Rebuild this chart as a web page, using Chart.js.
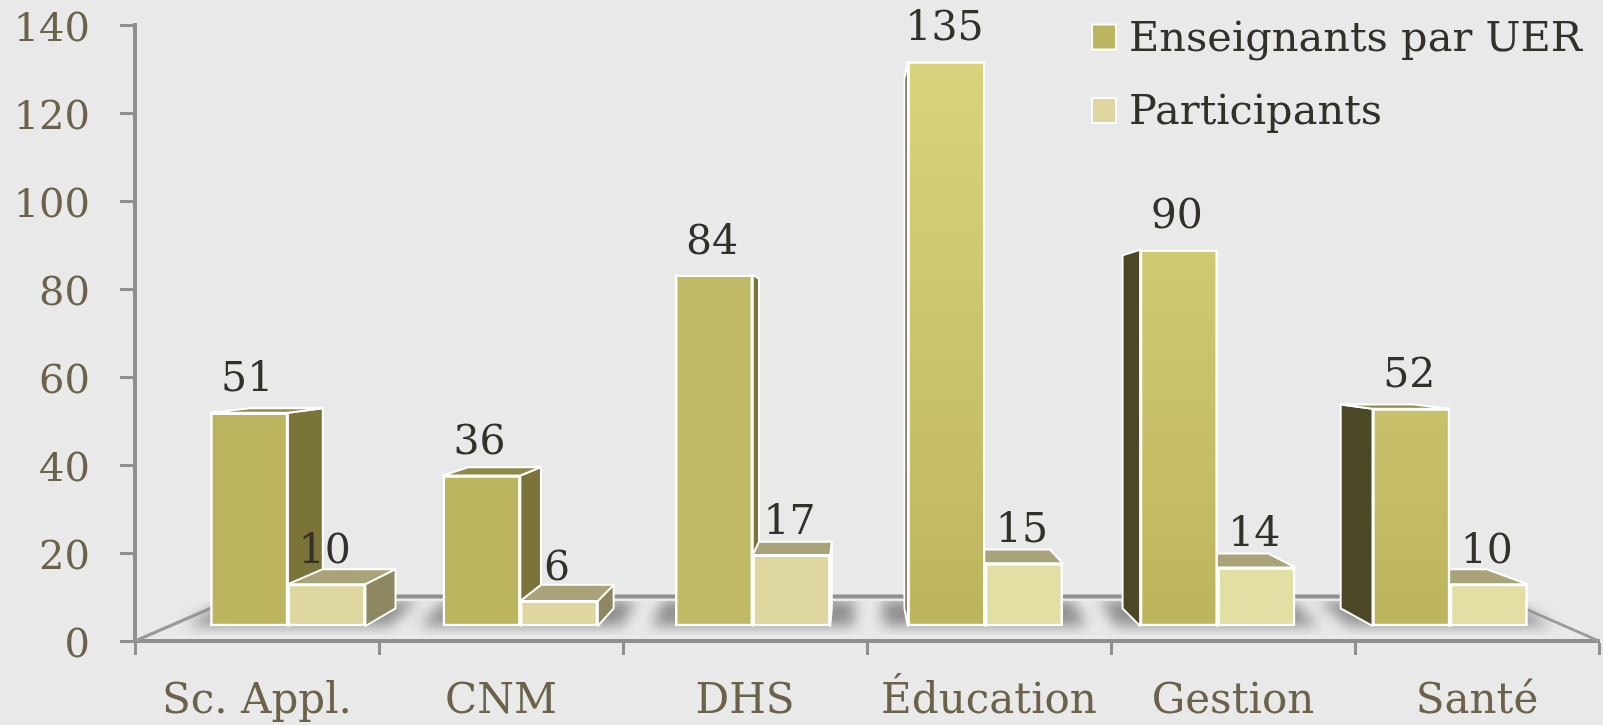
<!DOCTYPE html>
<html>
<head>
<meta charset="utf-8">
<title>Enseignants par UER</title>
<style>
  html, body { margin: 0; padding: 0; background: #e9e9e9; }
  canvas { display: block; }
</style>
<script src="https://cdn.jsdelivr.net/npm/chart.js@4/dist/chart.umd.min.js"></script>
</head>
<body>
<canvas id="chart" width="1603" height="725"></canvas>
<script>
const categories = ['Sc. Appl.', 'CNM', 'DHS', 'Éducation', 'Gestion', 'Santé'];
const enseignants = [51, 36, 84, 135, 90, 52];
const participants = [10, 6, 17, 15, 14, 10];
const seriesNames = ['Enseignants par UER', 'Participants'];
const yTicksMax = 140;

const FONT = '"DejaVu Serif", serif';
const AXIS = '#8f8f8f';
const TICK_TEXT = '#6b6249';
const DARK_TEXT = '#33302a';

// Vanishing point of the fake 3D bars, t = how deep the boxes go
const vp = { x: 855, y: 340, t: 0.0615 };
const back = (x, y) => [x + vp.t * (vp.x - x), y + vp.t * (vp.y - y)];

function quad(ctx, pts, fill) {
  ctx.beginPath();
  pts.forEach((p, i) => i ? ctx.lineTo(p[0], p[1]) : ctx.moveTo(p[0], p[1]));
  ctx.closePath();
  ctx.fillStyle = fill;
  ctx.fill();
  ctx.strokeStyle = '#ffffff';
  ctx.lineWidth = 2;
  ctx.lineJoin = 'round';
  ctx.stroke();
}

// Side and top faces of one bar, front face is drawn by Chart.js
function drawBox(ctx, bar, colors) {
  const l = bar.x - bar.width / 2, r = bar.x + bar.width / 2;
  const top = bar.y, base = bar.base;
  if (r < vp.x) {
    quad(ctx, [[r, top], back(r, top), back(r, base), [r, base]], colors.right);
  } else if (l > vp.x) {
    quad(ctx, [[l, top], back(l, top), back(l, base), [l, base]], colors.left);
  }
  if (top > vp.y) {
    quad(ctx, [[l, top], back(l, top), back(r, top), [r, top]], colors.top);
  }
}

const sideColors = [
  { right: '#7a733a', left: '#4c4726', top: '#8f8947' },
  { right: '#8d8861', left: '#8d8861', top: '#a8a378' }
];

const floorPlugin = {
  id: 'floor',
  beforeDatasetsDraw(chart) {
    const ctx = chart.ctx;
    const area = chart.chartArea;
    const tall = chart.getDatasetMeta(0).data;
    const small = chart.getDatasetMeta(1).data;
    const backY = 596.5;

    ctx.save();
    // floor outline
    ctx.strokeStyle = AXIS;
    ctx.lineWidth = 4;
    ctx.beginPath();
    ctx.moveTo(238, backY);
    ctx.lineTo(1497, backY);
    ctx.stroke();
    ctx.lineWidth = 3;
    ctx.strokeStyle = '#9a9a9a';
    ctx.beginPath();
    ctx.moveTo(area.left, area.bottom);
    ctx.lineTo(238, backY);
    ctx.moveTo(area.right, area.bottom);
    ctx.lineTo(1497, backY);
    ctx.stroke();

    // blurred shadow under each group of bars
    ctx.save();
    ctx.beginPath();
    ctx.rect(area.left, 601, area.right - area.left, 34);
    ctx.clip();
    ctx.filter = 'blur(7px)';
    tall.forEach((bar, i) => {
      const l = bar.x - bar.width / 2 - 24;
      const r = small[i].x + small[i].width / 2 + 24;
      const b = bar.base;
      ctx.beginPath();
      ctx.moveTo(l, b);
      ctx.lineTo(r, b);
      ctx.lineTo(back(r, b)[0], 600);
      ctx.lineTo(back(l, b)[0], 600);
      ctx.closePath();
      ctx.fillStyle = '#8e8e8e';
      ctx.fill();
    });
    ctx.restore();

    tall.forEach(bar => drawBox(ctx, bar, sideColors[0]));
    small.forEach(bar => drawBox(ctx, bar, sideColors[1]));
    ctx.restore();
  }
};

// Value labels and legend
const labelsPlugin = {
  id: 'valueLabels',
  afterDatasetsDraw(chart) {
    const ctx = chart.ctx;
    ctx.save();
    ctx.font = '41px ' + FONT;
    ctx.fillStyle = DARK_TEXT;
    ctx.textAlign = 'center';
    ctx.textBaseline = 'middle';
    chart.data.datasets.forEach((ds, d) => {
      chart.getDatasetMeta(d).data.forEach((bar, i) => {
        ctx.fillText(ds.data[i].y, bar.x - 2, bar.y - 32);
      });
    });

    ctx.textAlign = 'left';
    ctx.font = '41.5px ' + FONT;
    chart.data.datasets.forEach((ds, d) => {
      const cy = 37 + d * 73.5;
      ctx.fillStyle = ds.legendColor;
      ctx.strokeStyle = '#ffffff';
      ctx.lineWidth = 2;
      ctx.fillRect(1092, cy - 12.5, 24, 25);
      ctx.strokeRect(1092, cy - 12.5, 24, 25);
      ctx.fillStyle = DARK_TEXT;
      ctx.fillText(ds.label, 1129, cy + 3);
    });
    ctx.restore();
  }
};

// Pin the plot area where the picture has it
function pinScale(size) {
  return s => {
    if (size.width) s.width = size.width;
    if (size.height) s.height = size.height;
    s.paddingLeft = s.paddingRight = s.paddingTop = s.paddingBottom = 0;
  };
}

function tallColor(ctx) {
  const i = ctx.dataIndex;
  if (i === undefined || i < 2) return '#bcb55f';
  if (i === 2) return '#c0ba66';
  const yScale = ctx.chart.scales.yBars;
  const g = ctx.chart.ctx.createLinearGradient(0, yScale.getPixelForValue(135), 0, yScale.getPixelForValue(0));
  g.addColorStop(0, '#d9d37e');
  g.addColorStop(1, '#bdb55e');
  return g;
}

function smallColor(ctx) {
  return ctx.dataIndex >= 3 ? '#e3dea4' : '#ded8a0';
}

const toPoints = values => values.map((v, i) => ({ x: i, y: v }));

new Chart(document.getElementById('chart').getContext('2d'), {
  type: 'bar',
  data: {
    labels: categories,
    datasets: [
      {
        label: seriesNames[0],
        data: toPoints(enseignants),
        xAxisID: 'xBars',
        yAxisID: 'yBars',
        backgroundColor: tallColor,
        legendColor: '#bcb55f',
        borderColor: '#ffffff',
        borderWidth: 2.5,
        borderSkipped: false
      },
      {
        label: seriesNames[1],
        data: toPoints(participants),
        xAxisID: 'xBars',
        yAxisID: 'yBars',
        backgroundColor: smallColor,
        legendColor: '#ded8a0',
        borderColor: '#ffffff',
        borderWidth: 2.5,
        borderSkipped: false
      }
    ]
  },
  options: {
    responsive: false,
    animation: false,
    layout: { padding: { top: 25, left: 0, right: 4, bottom: 0 } },
    datasets: { bar: { barThickness: 77.5 } },
    plugins: { legend: { display: false }, tooltip: { enabled: false } },
    scales: {
      // the axes that show
      x: {
        type: 'category',
        offset: true,
        afterFit: pinScale({ height: 84 }),
        border: { color: AXIS, width: 4 },
        grid: { offset: true, drawOnChartArea: false, color: AXIS, tickLength: 14, tickWidth: 3 },
        ticks: { color: TICK_TEXT, font: { family: FONT, size: 42 }, padding: 22, maxRotation: 0, autoSkip: false }
      },
      y: {
        type: 'linear',
        min: 0,
        max: yTicksMax,
        afterFit: pinScale({ width: 135 }),
        border: { color: AXIS, width: 4 },
        grid: { drawOnChartArea: false, color: AXIS, tickLength: 15, tickWidth: 3 },
        ticks: { stepSize: 20, color: TICK_TEXT, font: { family: FONT, size: 40 }, padding: 30, labelOffset: 6 }
      },
      // the bars stand on the front of the box, so they get their own hidden scales
      xBars: { type: 'linear', axis: 'x', display: false, offset: false, min: -0.658, max: 5.641, grid: { offset: false } },
      yBars: { type: 'linear', axis: 'y', display: false, min: -3.59, max: 143.78 }
    }
  },
  plugins: [floorPlugin, labelsPlugin]
});
</script>
</body>
</html>
